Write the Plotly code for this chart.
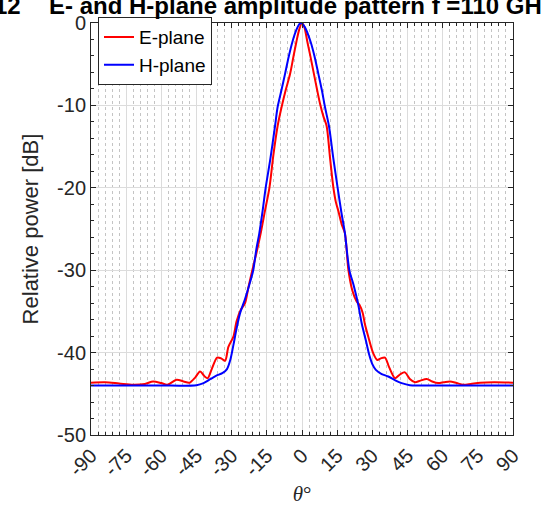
import plotly.graph_objects as go

# ---- data ----
theta_e = [-90, -84, -78, -72, -67, -63.5, -60, -57.5, -53.5, -50.5, -48, -45.5, -43.5, -41.5,
           -40.2, -38.5, -36.2, -34.5, -32.8, -31.4, -29.3, -27.9, -26.1, -24.3, -22.8, -21.2,
           -19.5, -17.6, -15.8, -13.9, -12.2, -10.4, -8.7, -7.0, -5.1, -3.6, -2.4, -1.2, 0,
           1.0, 2.3, 3.7, 5.1, 6.5, 7.7, 9.1, 10.5, 12.0, 13.4, 14.5, 15.5, 17.0, 18.3, 19.8,
           21.5, 23.3, 24.5, 25.9, 26.8, 28.3, 30.4, 32.1, 33.6, 35.4, 37.2, 39.7, 42.0, 43.9,
           46.0, 48.2, 50.5, 53.2, 55.5, 58.1, 60.5, 63.1, 66.0, 68.8, 72, 76, 82, 90]
power_e = [-43.65, -43.6, -43.75, -43.9, -43.8, -43.5, -43.7, -43.9, -43.3, -43.5, -43.65, -43.0,
           -42.3, -42.9, -43.1, -42.0, -40.6, -40.7, -41.0, -39.3, -38.1, -36.2, -34.8, -34.0,
           -32.0, -30.0, -28.0, -25.5, -22.8, -20.0, -16.0, -12.5, -10.2, -8.2, -6.2, -4.0, -2.3,
           -0.8, 0.0, -0.5, -2.3, -4.2, -6.2, -8.2, -9.8, -11.3, -12.5, -16.5, -20.0, -21.8,
           -22.8, -24.5, -25.5, -30.0, -32.5, -33.8, -34.2, -35.2, -36.5, -38.1, -40.1, -40.9,
           -40.7, -40.6, -41.8, -43.1, -42.6, -42.4, -43.2, -43.6, -43.4, -43.2, -43.5, -43.7,
           -43.6, -43.5, -43.7, -43.9, -43.8, -43.65, -43.6, -43.65]

theta_h = [-90, -75, -60, -45, -42, -39, -36.5, -34, -32, -30.5, -29.2, -28, -26.5, -24.3, -22.5,
           -20.8, -19.5, -18.2, -16.8, -15.5, -13.5, -11.5, -10.4, -8.8, -7.25, -5.6, -4.1, -2.5,
           -1.0, -0.3, 1.2, 3.7, 5.3, 7.0, 8.5, 9.8, 11.5, 13.3, 15.2, 16.8, 18.3, 20.2, 22.0,
           24.0, 25.5, 27.3, 28.7, 30.0, 31.5, 34.0, 36.8, 40.0, 42.5, 46.0, 60, 75, 90]
power_h = [-44.0, -44.0, -44.0, -43.95, -43.7, -43.2, -42.8, -42.5, -42.0, -40.8, -39.0, -37.2,
           -35.3, -33.5, -31.8, -30.0, -27.5, -25.5, -22.8, -20.0, -16.5, -12.5, -10.2, -8.2,
           -6.2, -4.0, -2.3, -0.9, -0.1, 0.0, -0.5, -2.3, -4.0, -6.2, -8.2, -10.2, -12.5, -16.3,
           -20.0, -23.0, -25.5, -30.0, -31.8, -34.2, -36.5, -38.6, -40.3, -41.4, -42.1, -42.6,
           -42.9, -43.4, -43.7, -43.95, -44.0, -44.0, -44.0]

x_ticks = [-90, -75, -60, -45, -30, -15, 0, 15, 30, 45, 60, 75, 90]
y_ticks = [0, -10, -20, -30, -40, -50]

title_prefix = "Fig12"
title_main = "E- and H-plane amplitude pattern f =110 GHz"

# ---- figure ----
W, H = 541, 513
ml, mr, mt, mb = 91, 28, 14, 76
pw, ph = W - ml - mr, H - mt - mb
axc = "#262626"

fig = go.Figure()
fig.add_trace(go.Scatter(x=theta_e, y=power_e, mode="lines", name="E-plane",
                         line=dict(color="#ff0000", width=2, shape="spline", smoothing=0.8)))
fig.add_trace(go.Scatter(x=theta_h, y=power_h, mode="lines", name="H-plane",
                         line=dict(color="#0000ff", width=2, shape="spline", smoothing=0.8)))

font_fam = "Liberation Sans, Arial, sans-serif"

fig.update_layout(
    width=W, height=H,
    margin=dict(l=ml, r=mr, t=mt, b=mb),
    paper_bgcolor="white", plot_bgcolor="white",
    font=dict(family=font_fam, size=20, color=axc),
    showlegend=True,
    legend=dict(x=(98 - ml) / pw, y=1 - (8 - mt) / ph, xanchor="left", yanchor="top",
                bgcolor="white", bordercolor=axc, borderwidth=1,
                font=dict(size=19, color="black", family=font_fam),
                tracegroupgap=0, itemwidth=30),
    xaxis=dict(range=[-90, 90], tickvals=x_ticks, ticktext=[str(v) for v in x_ticks],
               tickangle=-45, ticks="inside", ticklen=5, tickcolor=axc,
               showline=True, linecolor=axc, linewidth=1, mirror="ticks",
               showgrid=True, gridcolor="#dcdcdc", gridwidth=1, zeroline=False,
               minor=dict(dtick=3, tick0=0, ticks="inside", ticklen=3, tickcolor=axc,
                          showgrid=True, gridcolor="#c4c4c4", griddash="dot", gridwidth=1),
               tickfont=dict(size=20, color=axc),
               title=dict(text="<i>θ</i>°", font=dict(family="Liberation Serif, Times New Roman, serif",
                                                      size=21, color=axc), standoff=6)),
    yaxis=dict(range=[-50, 0], tickvals=y_ticks, ticktext=[str(v) for v in y_ticks],
               ticks="inside", ticklen=5, tickcolor=axc,
               showline=True, linecolor=axc, linewidth=1, mirror="ticks",
               showgrid=True, gridcolor="#dcdcdc", gridwidth=1, zeroline=False,
               minor=dict(dtick=2, tick0=0, ticks="inside", ticklen=3, tickcolor=axc, showgrid=False),
               tickfont=dict(size=20, color=axc),
               title=dict(text="Relative power [dB]", font=dict(size=22, color=axc), standoff=12)),
)

ty = 1 + (mt + 4) / ph
fig.add_annotation(text="<b>" + title_main + "</b>", xref="paper", yref="paper",
                   x=(47 - ml) / pw, y=ty, xanchor="left", yanchor="middle",
                   showarrow=False, font=dict(size=24, color="black", family=font_fam))
fig.add_annotation(text="<b>" + title_prefix + "</b>", xref="paper", yref="paper",
                   x=(23 - ml) / pw, y=ty, xanchor="right", yanchor="middle",
                   showarrow=False, font=dict(size=24, color="black", family=font_fam))

fig.write_html("out.html", config={"displayModeBar": False})
